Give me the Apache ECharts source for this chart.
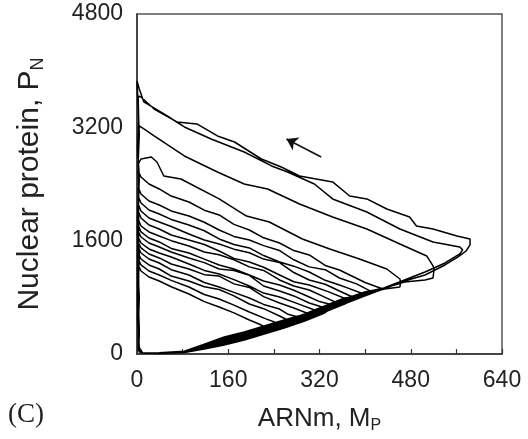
<!DOCTYPE html>
<html>
<head>
<meta charset="utf-8">
<script src="https://cdn.jsdelivr.net/npm/echarts@6/dist/echarts.min.js"></script>
<style>
  html, body { margin: 0; padding: 0; background: #fff; }
  #chart { width: 528px; height: 439px; }
</style>
</head>
<body>
<div id="chart"></div>
<script>
// Stochastic limit cycle: mRNA (M_P) vs nuclear protein (P_N), one array per turn.
const cycle01 = [[12,12],[39,10],[83,24],[118,85],[153,150],[188,214],[223,297],[258,384],[294,478],[329,595],[364,710],[399,818],[434,925],[469,1031],[505,1115],[540,1257],[563,1370],[577,1454],[584,1540],
  [584,1624],[561,1666],[519,1765],[490,1807],[478,1934],[438,2047],[403,2189],[373,2231],[343,2429],[285,2513],[253,2640],[218,2753],[171,2993],[141,3078],[105,3248],[70,3276],[30,3459],[7,3629],[2,3643],
  [3,3300],[1,2900],[4,2500],[2,2000],[3,1500],[1,1000],[3,500],[2,150],[4,40],[10,14]];
const cycle02 = [[12,12],[39,12],[83,26],[118,92],[153,165],[188,230],[223,313],[258,398],[294,495],[329,608],[364,722],[399,835],[434,936],[469,1045],[505,1158],[540,1285],[566,1412],[571,1470],
  [566,1511],[519,1581],[461,1765],[403,2005],[343,2189],[311,2400],[264,2570],[236,2655],[188,2852],[130,3036],[83,3205],[53,3360],[12,3558],[4,3742],[0,3855],
  [2,3500],[4,3100],[2,2700],[3,2200],[1,1700],[3,1200],[2,700],[4,300],[3,60],[10,16]];
const cycle03 = [[12,12],[39,14],[83,32],[118,110],[153,210],[188,282],[223,367],[258,452],[294,550],[329,663],[364,776],[399,876],[434,932],[469,1017],[505,1045],[519,1073],[521,1200],
  [519,1243],[508,1384],[461,1553],[403,1765],[343,1934],[285,2118],[229,2330],[188,2400],[141,2570],[83,2796],[30,3078],[12,3177],[4,3219],
  [2,2900],[3,2400],[1,1900],[4,1400],[2,900],[3,400],[2,80],[10,14]];
const cycle04 = [[12,10],[39,10],[83,26],[118,95],[153,172],[188,240],[223,325],[258,410],[294,508],[329,621],[364,734],[399,847],[434,918],[461,946],[462,1010],
  [461,1059],[438,1200],[390,1341],[338,1483],[290,1624],[232,1864],[192,1948],[144,2189],[77,2471],[47,2513],[35,2711],[25,2781],[7,2753],[2,2680],
  [3,2300],[1,1800],[3,1300],[2,800],[4,350],[3,70],[10,14]];
const cycle05 = [[12,12],[39,12],[83,30],[118,106],[153,198],[188,268],[223,353],[258,438],[294,536],[329,649],[364,762],[399,875],[425,905],
  [431,918],[400,1010],[355,1186],[330,1250],[302,1398],[275,1460],[250,1567],[222,1640],[197,1751],[170,1830],[144,1963],[118,2030],[91,2146],[60,2230],[39,2330],[21,2400],[7,2499],[2,2584],
  [3,2200],[1,1700],[3,1200],[2,700],[4,250],[2,60],[10,14]];
const cycle06 = [[12,12],[39,10],[83,28],[118,99],[153,184],[188,254],[223,339],[258,424],[294,522],[329,635],[364,748],[399,861],[411,880],
  [411,904],[385,990],[355,1073],[330,1190],[302,1230],[275,1330],[250,1460],[222,1530],[197,1610],[170,1660],[144,1751],[118,1860],[91,1949],[60,2020],[39,2104],[21,2160],[7,2259],[2,2358],
  [3,1900],[1,1400],[3,900],[2,400],[4,90],[10,14]];
const cycle07 = [[12,12],[39,8],[83,22],[118,80],[153,142],[188,212],[223,297],[258,382],[294,480],[329,593],[364,706],[388,800],
  [393,861],[370,930],[355,974],[330,1040],[302,1158],[275,1240],[250,1299],[222,1390],[197,1497],[170,1545],[144,1624],[118,1740],[91,1821],[60,1900],[39,1977],[21,2033],[7,2132],[2,2231],
  [3,1800],[1,1300],[4,800],[2,300],[3,60],[10,14]];
const cycle08 = [[12,14],[39,14],[83,36],[118,128],[153,226],[188,296],[223,381],[258,466],[294,564],[329,677],[364,790],[378,805],
  [380,819],[355,889],[330,985],[302,1045],[275,1150],[250,1290],[222,1340],[197,1430],[170,1480],[144,1553],[118,1610],[91,1694],[60,1800],[39,1864],[21,1920],[7,2019],[2,2118],
  [3,1700],[1,1200],[3,700],[2,250],[4,50],[10,14]];
const cycle09 = [[12,10],[39,10],[83,24],[118,88],[153,156],[188,226],[223,311],[258,396],[294,494],[329,607],[360,720],
  [367,777],[335,880],[302,974],[275,1020],[250,1115],[222,1225],[197,1299],[170,1350],[144,1454],[118,1545],[91,1610],[60,1680],[39,1765],[21,1821],[7,1920],[2,2019],
  [3,1600],[1,1100],[3,600],[2,200],[4,50],[10,14]];
const cycle10 = [[12,12],[39,12],[83,30],[118,110],[153,198],[188,268],[223,353],[258,438],[294,536],[329,649],[350,700],
  [355,706],[330,800],[302,904],[275,960],[250,1045],[222,1180],[197,1230],[170,1330],[144,1400],[118,1440],[91,1525],[60,1600],[39,1666],[21,1723],[7,1807],[2,1906],
  [3,1500],[1,1000],[3,550],[2,180],[4,45],[10,14]];
const cycle11 = [[12,10],[39,8],[83,20],[118,72],[153,128],[188,198],[223,283],[258,368],[294,466],[329,579],[340,640],
  [343,692],[320,740],[302,805],[275,900],[250,974],[222,1030],[197,1115],[170,1200],[144,1257],[118,1340],[91,1426],[60,1490],[39,1582],[21,1638],[7,1723],[2,1821],
  [3,1400],[1,950],[3,500],[2,150],[4,40],[10,14]];
const cycle12 = [[12,12],[39,14],[83,32],[118,118],[153,212],[188,282],[223,367],[258,452],[294,550],[325,640],
  [330,650],[302,720],[275,820],[250,889],[222,960],[197,1110],[170,1180],[144,1200],[118,1290],[91,1356],[60,1440],[39,1511],[21,1567],[7,1652],[2,1737],
  [3,1300],[1,850],[3,450],[2,130],[4,40],[10,14]];
const cycle13 = [[12,10],[39,10],[83,26],[118,92],[153,170],[188,240],[223,325],[258,410],[294,508],[312,570],
  [316,607],[285,700],[250,805],[222,860],[197,960],[170,1050],[144,1130],[118,1180],[91,1271],[60,1370],[39,1426],[21,1483],[7,1567],[2,1652],
  [3,1250],[1,800],[3,400],[2,120],[4,35],[10,14]];
const cycle14 = [[12,14],[39,16],[83,38],[118,140],[153,240],[188,310],[223,395],[258,480],[294,560],
  [302,565],[275,650],[250,720],[222,810],[197,940],[170,990],[144,1100],[118,1120],[91,1200],[60,1270],[39,1356],[21,1412],[7,1497],[2,1581],
  [3,1150],[1,700],[3,350],[2,100],[4,35],[10,14]];
const cycle15 = [[12,10],[39,8],[83,22],[118,80],[153,142],[188,212],[223,297],[258,382],[284,470],
  [288,508],[265,560],[250,635],[222,700],[197,791],[170,870],[144,946],[118,1010],[91,1115],[60,1190],[39,1285],[21,1341],[7,1426],[2,1511],
  [3,1100],[1,650],[3,300],[2,90],[4,30],[10,14]];
const cycle16 = [[12,12],[39,10],[83,28],[118,99],[153,184],[188,254],[223,339],[258,424],[270,455],
  [272,466],[250,537],[222,640],[197,706],[170,820],[144,910],[118,950],[91,1031],[60,1100],[39,1200],[21,1257],[7,1341],[2,1426],
  [3,1000],[1,600],[3,250],[2,80],[4,30],[10,14]];
const cycle17 = [[12,14],[39,14],[83,36],[118,128],[153,226],[188,296],[223,381],[250,405],
  [255,409],[225,500],[197,593],[170,690],[144,777],[118,840],[91,946],[60,1040],[39,1115],[21,1172],[7,1257],[2,1341],
  [3,950],[1,550],[3,220],[2,70],[4,30],[10,14]];
const cycle18 = [[12,10],[39,10],[83,24],[118,88],[153,156],[188,226],[223,311],[233,340],
  [236,353],[215,420],[197,480],[170,580],[144,664],[118,740],[91,847],[60,950],[39,1031],[21,1087],[7,1172],[2,1257],
  [3,900],[1,500],[3,200],[2,60],[5,25],[12,12]];

const cycles = [cycle01, cycle02, cycle03, cycle04, cycle05, cycle06, cycle07, cycle08, cycle09,
                cycle10, cycle11, cycle12, cycle13, cycle14, cycle15, cycle16, cycle17, cycle18];

// Direction-of-motion arrow (tail -> head)
const arrowTail = [323, 2781];
const arrowHead = [262, 3036];

// Axis ticks
const xTicks = { min: 0, max: 640, step: 80, labelStep: 160 };
const yTicks = { min: 0, max: 4800, step: 1600 };

const trajectory = [].concat(...cycles);

const chart = echarts.init(document.getElementById('chart'), null, { renderer: 'canvas' });
const sans = 'Liberation Sans, Arial, Helvetica, sans-serif';

chart.setOption({
  animation: false,
  backgroundColor: '#fff',
  grid: {
    left: 137, top: 14, right: 26, bottom: 84,
    show: true, borderColor: '#555', borderWidth: 1.5, backgroundColor: 'transparent'
  },
  xAxis: {
    type: 'value', min: xTicks.min, max: xTicks.max, interval: xTicks.step,
    splitLine: { show: false },
    axisLine: { show: true, lineStyle: { color: '#333', width: 1.5 } },
    axisTick: { show: true, inside: true, length: 5, lineStyle: { color: '#333', width: 1.2 } },
    axisLabel: {
      margin: 15, color: '#222', fontSize: 23, fontFamily: sans,
      formatter: v => (v % xTicks.labelStep === 0 ? String(v) : '')
    },
    name: 'ARNm, M{sub|P}',
    nameLocation: 'middle', nameGap: 50,
    nameTextStyle: {
      color: '#222', fontSize: 26, fontFamily: sans, lineHeight: 30,
      rich: { sub: { fontSize: 16, fontFamily: sans, color: '#222', verticalAlign: 'bottom', lineHeight: 14 } }
    }
  },
  yAxis: {
    type: 'value', min: yTicks.min, max: yTicks.max, interval: yTicks.step,
    splitLine: { show: false },
    axisLine: { show: true, lineStyle: { color: '#333', width: 1.5 } },
    axisTick: { show: false },
    axisLabel: { margin: 14, color: '#222', fontSize: 23, fontFamily: sans, formatter: v => String(v) },
    name: 'Nuclear protein, P{sub|N}',
    nameLocation: 'middle', nameGap: 90, nameRotate: 90,
    nameTextStyle: {
      color: '#222', fontSize: 30, fontFamily: sans, lineHeight: 34,
      rich: { sub: { fontSize: 18, fontFamily: sans, color: '#222', verticalAlign: 'bottom', lineHeight: 14 } }
    }
  },
  series: [
    {
      type: 'line', data: trajectory, showSymbol: false, smooth: false,
      lineStyle: { color: '#000', width: 1.5 }, z: 3
    },
    {
      type: 'lines', coordinateSystem: 'cartesian2d',
      data: [{ coords: [arrowTail, arrowHead] }],
      symbol: ['none', 'arrow'], symbolSize: 11,
      lineStyle: { color: '#111', width: 1.6, opacity: 1 }, z: 4
    }
  ],
  graphic: [
    {
      type: 'text', left: 8, top: 401,
      style: { text: '(C)', fontSize: 27, fontFamily: 'Liberation Serif, Times New Roman, serif', fill: '#222' }
    }
  ]
});
</script>
</body>
</html>
